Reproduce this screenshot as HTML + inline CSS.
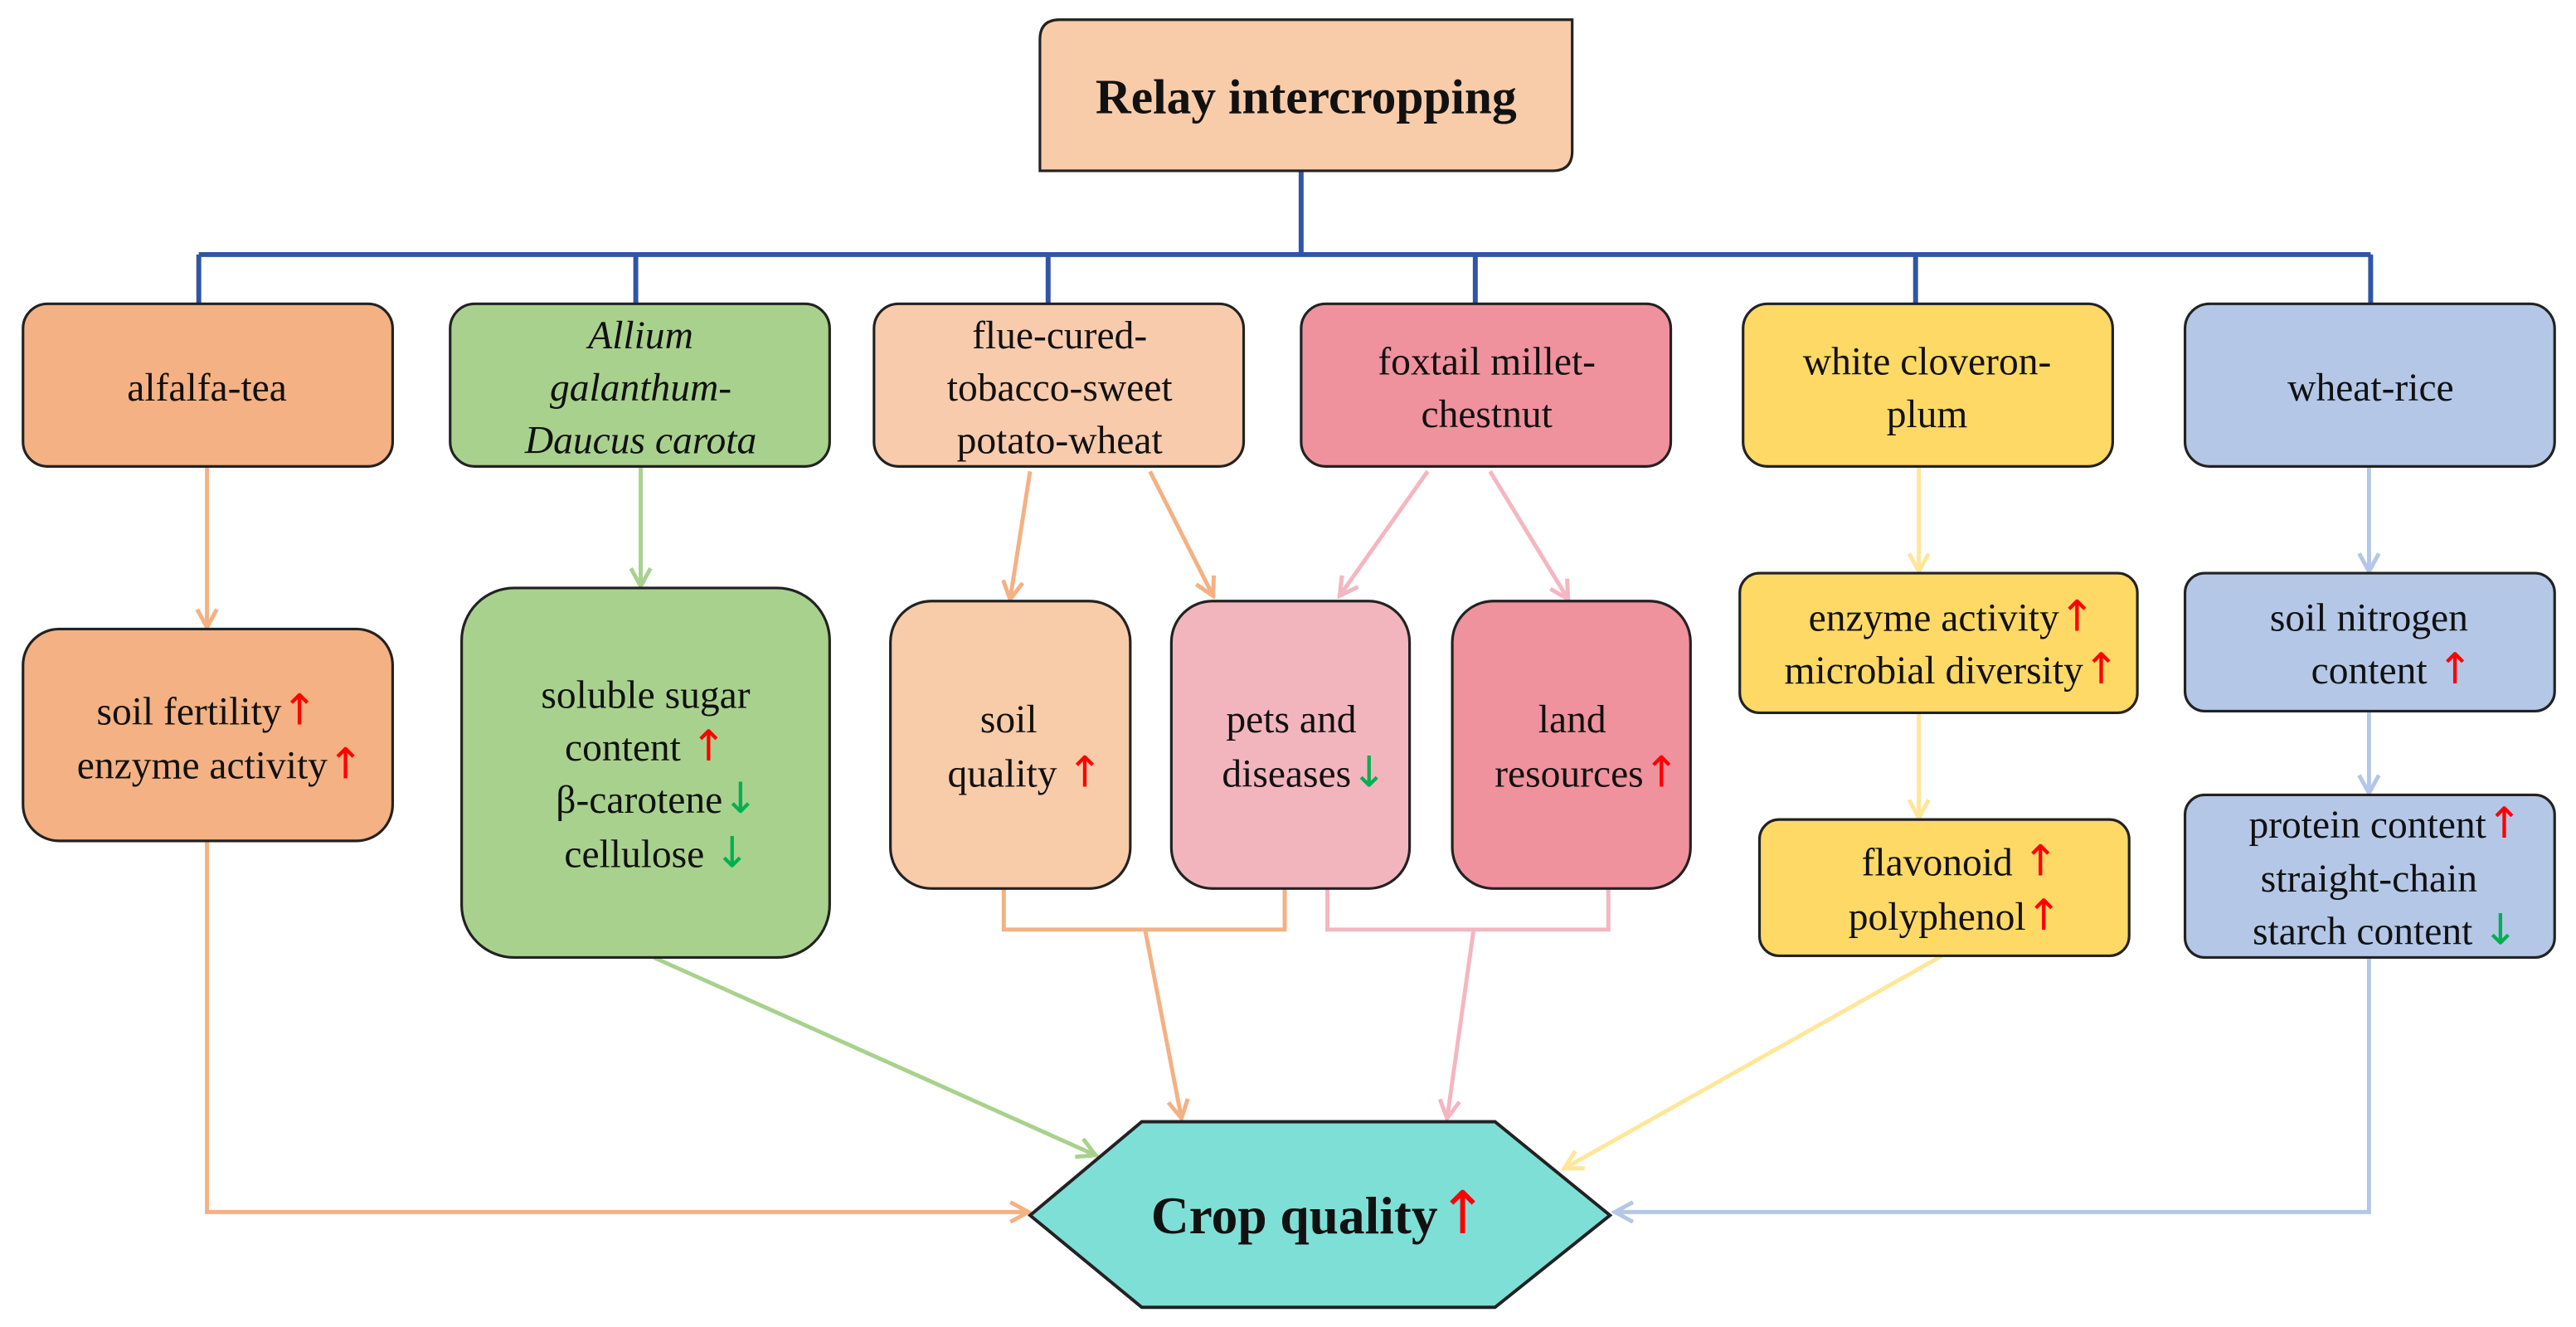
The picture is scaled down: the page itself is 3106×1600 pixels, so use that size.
<!DOCTYPE html>
<html><head><meta charset="utf-8"><style>
html,body{margin:0;padding:0;background:#fff;}
svg{display:block;}
text{font-family:"Liberation Serif",serif;fill:#111;}
.t{font-size:24px;text-anchor:middle;}
.u{fill:#FF0000;font-family:"DejaVu Sans",sans-serif;font-size:26px;}
.d{fill:#00B050;font-family:"DejaVu Sans",sans-serif;font-size:26px;}
</style></head><body>
<svg width="3106" height="1600" viewBox="0 0 1568 808" preserveAspectRatio="none" xmlns="http://www.w3.org/2000/svg">
<defs>
<marker id="mo" markerWidth="14" markerHeight="14" refX="11" refY="7" orient="auto" markerUnits="userSpaceOnUse"><path d="M1,1 L12,7 L1,13" fill="none" stroke="#F4B183" stroke-width="2.5"/></marker>
<marker id="mg" markerWidth="14" markerHeight="14" refX="11" refY="7" orient="auto" markerUnits="userSpaceOnUse"><path d="M1,1 L12,7 L1,13" fill="none" stroke="#A9D18E" stroke-width="2.5"/></marker>
<marker id="mp" markerWidth="14" markerHeight="14" refX="11" refY="7" orient="auto" markerUnits="userSpaceOnUse"><path d="M1,1 L12,7 L1,13" fill="none" stroke="#F4B6C0" stroke-width="2.5"/></marker>
<marker id="my" markerWidth="14" markerHeight="14" refX="11" refY="7" orient="auto" markerUnits="userSpaceOnUse"><path d="M1,1 L12,7 L1,13" fill="none" stroke="#FFE699" stroke-width="2.5"/></marker>
<marker id="mb" markerWidth="14" markerHeight="14" refX="11" refY="7" orient="auto" markerUnits="userSpaceOnUse"><path d="M1,1 L12,7 L1,13" fill="none" stroke="#B4C7E7" stroke-width="2.5"/></marker>
</defs>

<!-- blue tree -->
<g stroke="#2F55A4" stroke-width="3" fill="none">
<path d="M792,104 V155"/>
<path d="M121,155 H1443"/>
<path d="M121,155 V185 M387,155 V185 M638,155 V185 M898,155 V185 M1166,155 V185 M1443,155 V185"/>
</g>

<!-- connectors -->
<g fill="none" stroke-width="2.5">
<path d="M126,284 V381" stroke="#F4B183" marker-end="url(#mo)"/>
<path d="M126,512 V738 H625" stroke="#F4B183" marker-end="url(#mo)"/>
<path d="M390,284 V356" stroke="#A9D18E" marker-end="url(#mg)"/>
<path d="M398,583 L666,703" stroke="#A9D18E" marker-end="url(#mg)"/>
<path d="M627,287 L615,364" stroke="#F4B183" marker-end="url(#mo)"/>
<path d="M700,287 L738,362" stroke="#F4B183" marker-end="url(#mo)"/>
<path d="M611,541 V566 H782 V541" stroke="#F4B183"/>
<path d="M697,566 L719,680" stroke="#F4B183" marker-end="url(#mo)"/>
<path d="M869,287 L816,362" stroke="#F4B6C0" marker-end="url(#mp)"/>
<path d="M907,287 L954,364" stroke="#F4B6C0" marker-end="url(#mp)"/>
<path d="M808,541 V566 H979 V541" stroke="#F4B6C0"/>
<path d="M897,566 L881,680" stroke="#F4B6C0" marker-end="url(#mp)"/>
<path d="M1168,284 V347" stroke="#FFE699" marker-end="url(#my)"/>
<path d="M1168,434 V497" stroke="#FFE699" marker-end="url(#my)"/>
<path d="M1182,582 L953,711" stroke="#FFE699" marker-end="url(#my)"/>
<path d="M1442,284 V347" stroke="#B4C7E7" marker-end="url(#mb)"/>
<path d="M1442,433 V482" stroke="#B4C7E7" marker-end="url(#mb)"/>
<path d="M1442,583 V738 H984" stroke="#B4C7E7" marker-end="url(#mb)"/>
</g>

<!-- boxes -->
<g stroke="#222" stroke-width="1.6">
<path d="M645,12 H957 V92 Q957,104 945,104 H633 V24 Q633,12 645,12 Z" fill="#F8CBA9"/>
<rect x="14" y="185" width="225" height="99" rx="15" fill="#F4B183"/>
<rect x="274" y="185" width="231" height="99" rx="15" fill="#A9D18E"/>
<rect x="532" y="185" width="225" height="99" rx="15" fill="#F8CBAD"/>
<rect x="792" y="185" width="225" height="99" rx="15" fill="#EF929D"/>
<rect x="1061" y="185" width="225" height="99" rx="15" fill="#FFD966"/>
<rect x="1330" y="185" width="225" height="99" rx="15" fill="#B4C7E7"/>

<rect x="14" y="383" width="225" height="129" rx="22" fill="#F4B183"/>
<rect x="281" y="358" width="224" height="225" rx="32" fill="#A9D18E"/>
<rect x="542" y="366" width="146" height="175" rx="25" fill="#F8CBA9"/>
<rect x="713" y="366" width="145" height="175" rx="25" fill="#F2B5BE"/>
<rect x="884" y="366" width="145" height="175" rx="25" fill="#EF929D"/>
<rect x="1059" y="349" width="242" height="85" rx="12" fill="#FFD966"/>
<rect x="1071" y="499" width="225" height="83" rx="12" fill="#FFD966"/>
<rect x="1330" y="349" width="225" height="84" rx="12" fill="#B4C7E7"/>
<rect x="1330" y="484" width="225" height="99" rx="12" fill="#B4C7E7"/>
<polygon points="627,740 695,683 910,683 980,740 910,796 695,796" fill="#7EDFD6" stroke-width="2"/>
</g>

<!-- texts -->
<text x="795" y="69" style="font-size:30px;font-weight:bold;text-anchor:middle;">Relay intercropping</text>

<text class="t" x="126" y="244">alfalfa-tea</text>
<text class="t" x="390" y="212" font-style="italic">Allium</text>
<text class="t" x="390" y="244" font-style="italic">galanthum-</text>
<text class="t" x="390" y="276" font-style="italic">Daucus carota</text>
<text class="t" x="645" y="212">flue-cured-</text>
<text class="t" x="645" y="244">tobacco-sweet</text>
<text class="t" x="645" y="276">potato-wheat</text>
<text class="t" x="905" y="228">foxtail millet-</text>
<text class="t" x="905" y="260">chestnut</text>
<text class="t" x="1173" y="228">white cloveron-</text>
<text class="t" x="1173" y="260">plum</text>
<text class="t" x="1443" y="244">wheat-rice</text>

<text class="t" x="126" y="441">soil fertility<tspan class="u">↑</tspan></text>
<text class="t" x="134" y="474">enzyme activity<tspan class="u">↑</tspan></text>

<text class="t" x="393" y="431">soluble sugar</text>
<text class="t" x="393" y="463">content <tspan class="u">↑</tspan></text>
<text class="t" x="400" y="495">β-carotene<tspan class="d">↓</tspan></text>
<text class="t" x="400" y="528">cellulose <tspan class="d">↓</tspan></text>

<text class="t" x="614" y="446">soil</text>
<text class="t" x="624" y="479">quality <tspan class="u">↑</tspan></text>
<text class="t" x="786" y="446">pets and</text>
<text class="t" x="794" y="479">diseases<tspan class="d">↓</tspan></text>
<text class="t" x="957" y="446">land</text>
<text class="t" x="966" y="479">resources<tspan class="u">↑</tspan></text>

<text class="t" x="1188" y="384">enzyme activity<tspan class="u">↑</tspan></text>
<text class="t" x="1188" y="416">microbial diversity<tspan class="u">↑</tspan></text>
<text class="t" x="1193" y="533">flavonoid <tspan class="u">↑</tspan></text>
<text class="t" x="1190" y="566">polyphenol<tspan class="u">↑</tspan></text>

<text class="t" x="1442" y="384">soil nitrogen</text>
<text class="t" x="1456" y="416">content <tspan class="u">↑</tspan></text>
<text class="t" x="1452" y="510">protein content<tspan class="u">↑</tspan></text>
<text class="t" x="1442" y="543">straight-chain</text>
<text class="t" x="1452" y="575">starch content <tspan class="d">↓</tspan></text>

<text x="803" y="751" style="font-size:32px;font-weight:bold;text-anchor:middle;">Crop quality<tspan style="fill:#FF0000;font-family:'DejaVu Sans',sans-serif;font-size:36px;font-weight:normal;">↑</tspan></text>
</svg>
</body></html>
